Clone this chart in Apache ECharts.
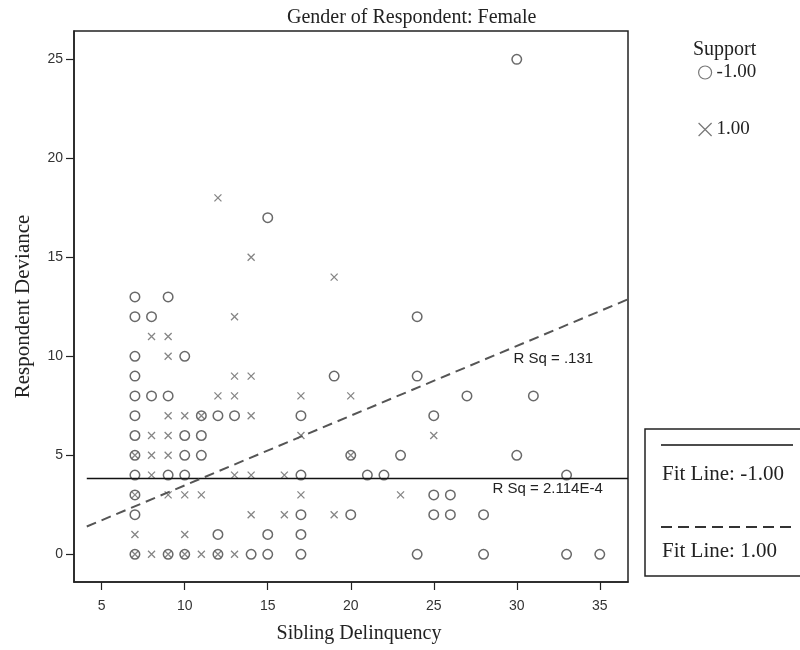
<!DOCTYPE html>
<html><head><meta charset="utf-8">
<script src="https://cdn.jsdelivr.net/npm/echarts@6/dist/echarts.min.js"></script>
<style>html,body{margin:0;padding:0;background:#fff}#c{width:800px;height:650px}</style>
</head><body><div id="c"></div>
<script>
// ---- data ----
const xTicks = [5, 10, 15, 20, 25, 30, 35];
const yTicks = [0, 5, 10, 15, 20, 25];
// Support = -1.00 (circles): [Sibling Delinquency, Respondent Deviance]
const supportNeg = [
  [7,13],[7,12],[7,10],[7,9],[7,8],[7,7],[7,6],[7,5],[7,4],[7,3],[7,2],[7,0],
  [8,12],[8,8],
  [9,13],[9,8],[9,4],[9,0],
  [10,10],[10,6],[10,5],[10,4],[10,0],
  [11,7],[11,6],[11,5],
  [12,7],[12,1],[12,0],
  [13,7],
  [14,0],
  [15,17],[15,1],[15,0],
  [17,7],[17,4],[17,2],[17,1],[17,0],
  [19,9],
  [20,5],[20,2],
  [21,4],[22,4],[23,5],
  [24,12],[24,9],[24,0],
  [25,7],[25,3],[25,2],
  [26,3],[26,2],
  [27,8],
  [28,2],[28,0],
  [30,25],[30,5],
  [31,8],
  [33,4],[33,0],
  [35,0]
];
// Support = 1.00 (crosses)
const supportPos = [
  [7,5],[7,3],[7,1],[7,0],
  [8,11],[8,6],[8,5],[8,4],[8,0],
  [9,11],[9,10],[9,7],[9,6],[9,5],[9,3],[9,0],
  [10,7],[10,3],[10,1],[10,0],
  [11,7],[11,3],[11,0],
  [12,18],[12,8],[12,0],
  [13,12],[13,9],[13,8],[13,4],[13,0],
  [14,15],[14,9],[14,7],[14,4],[14,2],
  [16,4],[16,2],
  [17,8],[17,6],[17,3],
  [19,14],[19,2],
  [20,8],[20,5],
  [23,3],
  [25,6]
];
// Fit lines (linear): y = intercept + slope * x
const fitNeg = { intercept: 3.83, slope: 0.0 };
const fitPos = { intercept: -0.04, slope: 0.352 };
const fitXRange = [4.1, 36.7];
const rSqNeg = 'R Sq = 2.114E-4';
const rSqPos = 'R Sq = .131';

function fitData(f) {
  return fitXRange.map(x => [x, f.intercept + f.slope * x]);
}

const SERIF = 'Liberation Serif, Times New Roman, serif';
const SANS = 'Liberation Sans, Arial, sans-serif';
const crossPath = 'path://M0,0L10,10M10,0L0,10';

const chart = echarts.init(document.getElementById('c'), null, { renderer: 'canvas' });
chart.setOption({
  animation: false,
  backgroundColor: '#fff',
  title: {
    text: 'Gender of Respondent: Female',
    left: 282, top: 3,
    textStyle: { fontFamily: SERIF, fontSize: 20, fontWeight: 'normal', color: '#222' }
  },
  grid: {
    left: 74, top: 31, right: 172, bottom: 68,
    show: true, borderColor: '#222', borderWidth: 1.5, backgroundColor: '#fff'
  },
  legend: {
    orient: 'vertical', left: 698, top: 63, padding: 0,
    itemWidth: 13, itemHeight: 13, itemGap: 38,
    selectedMode: false,
    textStyle: { fontFamily: SERIF, fontSize: 19, color: '#222' },
    data: [
      { name: '-1.00', icon: 'circle', itemStyle: { color: 'transparent', borderColor: '#555', borderWidth: 1.2 } },
      { name: '1.00', icon: crossPath, itemStyle: { color: 'transparent', borderColor: '#555', borderWidth: 1.2 } }
    ]
  },
  xAxis: {
    type: 'value', min: 3.33, max: 36.7,
    axisLine: { show: true, onZero: false, lineStyle: { color: '#222', width: 1.5 } },
    axisTick: { show: true, length: 8, customValues: xTicks, lineStyle: { color: '#222', width: 1.2 } },
    axisLabel: { customValues: xTicks, fontFamily: SANS, fontSize: 14, color: '#333', margin: 17 },
    splitLine: { show: false },
    name: 'Sibling Delinquency', nameLocation: 'middle', nameGap: 42,
    nameTextStyle: { fontFamily: SERIF, fontSize: 20, color: '#222', padding: [0, 0, 0, 16] }
  },
  yAxis: {
    type: 'value', min: -1.4, max: 26.43,
    axisLine: { show: true, onZero: false, lineStyle: { color: '#222', width: 1.5 } },
    axisTick: { show: true, length: 8, customValues: yTicks, lineStyle: { color: '#222', width: 1.2 } },
    axisLabel: { customValues: yTicks, fontFamily: SANS, fontSize: 14, color: '#333', margin: 11 },
    splitLine: { show: false },
    name: 'Respondent Deviance', nameLocation: 'middle', nameGap: 40,
    nameTextStyle: { fontFamily: SERIF, fontSize: 21, color: '#222' }
  },
  series: [
    {
      name: '-1.00', type: 'scatter', data: supportNeg, symbol: 'circle', symbolSize: 9.5,
      itemStyle: { color: 'transparent', borderColor: '#444', borderWidth: 1.5 }, silent: true
    },
    {
      name: '1.00', type: 'scatter', data: supportPos, symbol: crossPath, symbolSize: 7,
      itemStyle: { color: 'transparent', borderColor: '#666', borderWidth: 1.3 }, silent: true
    },
    {
      name: 'Fit Line: -1.00', type: 'line', data: fitData(fitNeg), symbol: 'none', silent: true,
      lineStyle: { color: '#111', width: 1.6 },
      markPoint: {
        symbol: 'rect', symbolSize: 1, itemStyle: { color: 'transparent' }, silent: true,
        label: { show: true, position: 'inside', formatter: rSqNeg, fontFamily: SANS, fontSize: 15, color: '#222' },
        data: [{ coord: [31.86, 3.28] }]
      }
    },
    {
      name: 'Fit Line: 1.00', type: 'line', data: fitData(fitPos), symbol: 'none', silent: true,
      lineStyle: { color: '#555', width: 2, type: [10, 6] },
      markPoint: {
        symbol: 'rect', symbolSize: 1, itemStyle: { color: 'transparent' }, silent: true,
        label: { show: true, position: 'inside', formatter: rSqPos, fontFamily: SANS, fontSize: 15, color: '#222' },
        data: [{ coord: [32.2, 9.88] }]
      }
    }
  ],
  graphic: [
    { type: 'text', left: 693, top: 40, style: { text: 'Support', font: '20px ' + SERIF, fill: '#222' } },
    { type: 'rect', shape: { x: 645, y: 429, width: 170, height: 147 },
      style: { fill: '#fff', stroke: '#222', lineWidth: 1.5 } },
    { type: 'line', shape: { x1: 661, y1: 445, x2: 793, y2: 445 }, style: { stroke: '#111', lineWidth: 1.5 } },
    { type: 'text', left: 662, top: 464, style: { text: 'Fit Line: -1.00', font: '21px ' + SERIF, fill: '#222' } },
    { type: 'line', shape: { x1: 661, y1: 527, x2: 793, y2: 527 },
      style: { stroke: '#333', lineWidth: 1.8, lineDash: [11, 6] } },
    { type: 'text', left: 662, top: 541, style: { text: 'Fit Line: 1.00', font: '21px ' + SERIF, fill: '#222' } }
  ]
});
</script>
</body></html>
